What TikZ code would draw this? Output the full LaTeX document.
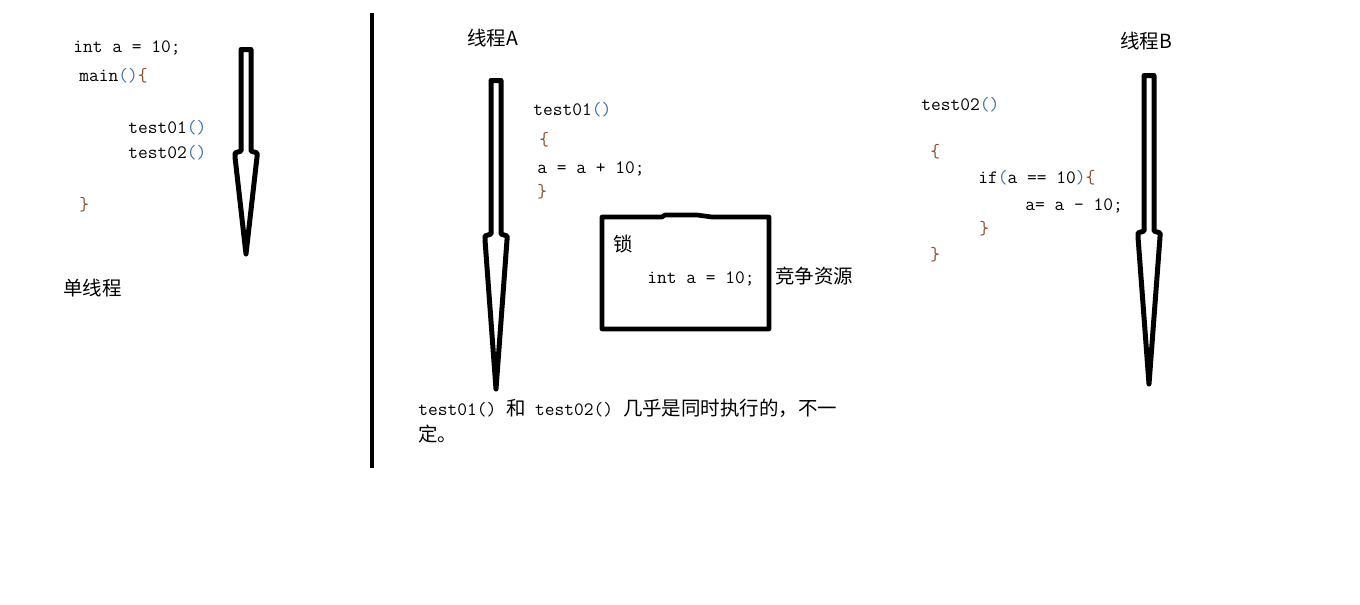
\documentclass[tikz,border=0pt]{standalone}
\usepackage{fontspec}
\usetikzlibrary{positioning}

\newfontfamily\zhfont{Noto Sans CJK SC}
\newcommand\codefont{\ttfamily\fontsize{14.2}{17}\selectfont}
\newcommand\cjkfont{\zhfont\fontsize{14.6}{17}\selectfont}
\definecolor{parencol}{HTML}{3A6EA5}
\definecolor{bracecol}{HTML}{8B4A2B}
\newcommand\pp{\textcolor{parencol}{()}}
\newcommand\ob{\textcolor{bracecol}{\{}}
\newcommand\cb{\textcolor{bracecol}{\}}}

% hollow arrow: centre x, top, shoulder, tip
\newcommand\threadarrow[4]{%
  \draw[blockarrow] ({#1-5},#2) -- ({#1+5},#2) -- ({#1+5},#3) -- ({#1+11},{#3+2})
    -- ({#1+11},{#3+6}) -- (#1,#4) -- ({#1-11},{#3+6}) -- ({#1-11},{#3+2})
    -- ({#1-5},#3) -- cycle;}

\tikzset{
  code/.style={font=\codefont, anchor=base west, inner sep=0pt},
  zh/.style={font=\cjkfont, anchor=base west, inner sep=0pt},
  blockarrow/.style={draw, line width=3.75pt, line join=round}
}

\begin{document}
\begin{tikzpicture}[x=0.75pt, y=-0.75pt]
    \useasboundingbox[fill=white] (0,0) rectangle (1360,604);

    % single thread
    \node[code] (intdecl) at (73,52) {int a = 10;};
    \node[code] (mainhead) at (79,81) {main\pp\ob};
    \node[code] (call1) at (128,133) {test01\pp};
    \node[code] (call2) at (128,158) {test02\pp};
    \node[code] (mainend) at (79,210) {\cb};
    \node[zh] (single) at (63,295) {单线程};
    \threadarrow{246}{49.5}{151}{254}

    % divider
    \draw[line width=3pt] (372,13) -- (372,468);

    % thread A
    \node[zh] (threadA) at (467,45) {线程A};
    \threadarrow{496}{80.5}{234}{389}
    \node[code] (aHead) at (533,115) {test01\pp};
    \node[code] (aOpen) at (539,145) {\ob};
    \node[code] (aBody) at (537,173) {a = a + 10;};
    \node[code] (aClose) at (537,197) {\cb};

    % shared resource
    \draw[line width=3.5pt, line join=round] (602,217) -- (662,217) -- (665,215) -- (697,215)
      -- (712,217) -- (769,217) -- (769,329) -- (602,329) -- cycle;
    \node[zh] (lockLabel) at (613,251) {锁};
    \node[code] (lockVar) at (647,283) {int a = 10;};
    \node[zh] (resource) at (775,283) {竞争资源};

    \node[code] (note1) at (418,415) {test01() {\cjkfont 和} test02() {\cjkfont 几乎是同时执行的，不一}};
    \node[zh] (note2) at (418,441) {定。};

    % thread B
    \node[zh] (threadB) at (1120,48) {线程B};
    \threadarrow{1149}{75.5}{231}{384}
    \node[code] (bHead) at (921,110) {test02\pp};
    \node[code] (bOpen) at (930,157) {\ob};
    \node[code] (bIf) at (978,183) {if\textcolor{parencol}{(}a == 10\textcolor{parencol}{)}\ob};
    \node[code] (bBody) at (1025,210) {a= a - 10;};
    \node[code] (bIfEnd) at (979,234) {\cb};
    \node[code] (bClose) at (930,260) {\cb};

\end{tikzpicture}
\end{document}
